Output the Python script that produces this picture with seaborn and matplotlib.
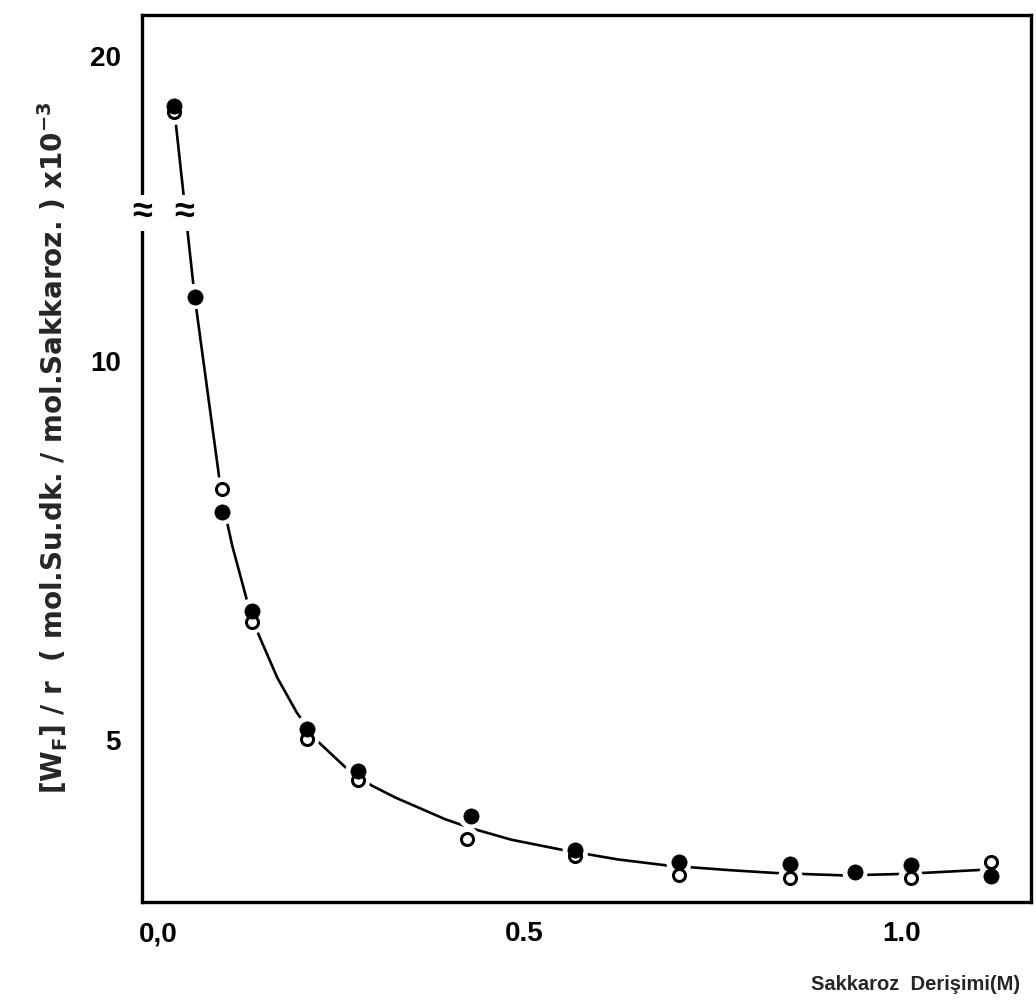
import numpy as np
import pandas as pd
import matplotlib
matplotlib.use("Agg")
import matplotlib.pyplot as plt
from matplotlib.transforms import ScaledTranslation
import seaborn as sns

# Sucrose concentration (M) and [W_F]/r values (x10^-3)
conc_filled = [0.043, 0.070, 0.107, 0.146, 0.219, 0.287, 0.437, 0.576, 0.714, 0.862, 0.948, 1.022, 1.129]
val_filled = [19.50, 11.00, 8.16, 6.86, 5.31, 4.75, 4.16, 3.72, 3.55, 3.53, 3.42, 3.52, 3.37]

conc_open = [0.043, 0.107, 0.146, 0.219, 0.287, 0.432, 0.576, 0.714, 0.862, 1.022, 1.129]
val_open = [19.42, 8.46, 6.72, 5.18, 4.64, 3.86, 3.64, 3.39, 3.34, 3.34, 3.55]

# Hand-drawn trend curve
curve_x = [0.043, 0.070, 0.107, 0.120, 0.139, 0.155, 0.180, 0.206, 0.232, 0.273, 0.306,
           0.338, 0.359, 0.403, 0.438, 0.491, 0.562, 0.633, 0.699, 0.780, 0.845, 0.934,
           1.014, 1.130]
curve_y = [19.45, 11.00, 8.30, 7.72, 7.02, 6.55, 5.98, 5.52, 5.16, 4.78, 4.56,
           4.40, 4.31, 4.12, 4.00, 3.85, 3.71, 3.59, 3.51, 3.45, 3.41, 3.38,
           3.40, 3.46]

x_ticks = [0.0, 0.5, 1.0]
x_ticklabels = ["0,0", "0.5", "1.0"]
y_ticks = [5, 10, 20]
y_ticklabels = ["5", "10", "20"]

# Broken y axis: the interval between BRK_LO and BRK_HI is squeezed out
BRK_LO, BRK_HI = 12.2, 18.2
GAP = BRK_HI - BRK_LO
EPS = 1e-3


def fwd(y):
    y = np.asarray(y, dtype=float)
    return np.where(y <= BRK_LO, y,
                    np.where(y >= BRK_HI, y - GAP + GAP * EPS,
                             BRK_LO + (y - BRK_LO) * EPS))


def inv(t):
    t = np.asarray(t, dtype=float)
    return np.where(t <= BRK_LO, t,
                    np.where(t >= BRK_LO + GAP * EPS, t + GAP - GAP * EPS,
                             BRK_LO + (t - BRK_LO) / EPS))


sns.set_theme(style="white")
plt.rcParams["font.family"] = ["Liberation Sans", "DejaVu Sans"]
plt.rcParams["mathtext.default"] = "regular"

W, H = 1036, 1007
fig = plt.figure(figsize=(W / 100, H / 100), dpi=100)
ax = fig.add_axes([142 / W, 1 - 902 / H, 889 / W, 887 / H])
ax.set_yscale("function", functions=(fwd, inv))

df_filled = pd.DataFrame({"conc": conc_filled, "val": val_filled})
df_open = pd.DataFrame({"conc": conc_open, "val": val_open})
df_curve = pd.DataFrame({"conc": curve_x, "val": curve_y})
df_all = pd.concat([df_filled, df_open], ignore_index=True)

sns.lineplot(data=df_curve, x="conc", y="val", sort=False, estimator=None,
             color="black", linewidth=1.9, ax=ax, zorder=2)
# white halos leave small gaps in the curve around each point
sns.scatterplot(data=df_all, x="conc", y="val", s=330, color="white",
                edgecolor="none", linewidth=0, ax=ax, zorder=3)
sns.scatterplot(data=df_open, x="conc", y="val", s=75, facecolor="white",
                edgecolor="black", linewidth=2.2, ax=ax, zorder=4)
sns.scatterplot(data=df_filled, x="conc", y="val", s=120, color="black",
                edgecolor="black", linewidth=0.5, ax=ax, zorder=5)

ax.set_xlim(0, 1.182)
ax.set_ylim(3.03, 20.70)
ax.set_xlabel("")
ax.set_ylabel("")

for sp in ax.spines.values():
    sp.set_linewidth(2.4)
    sp.set_color("black")
    sp.set_visible(True)

ax.set_xticks(x_ticks)
ax.set_xticklabels(x_ticklabels)
ax.set_yticks(y_ticks)
ax.set_yticklabels(y_ticklabels)
ax.tick_params(axis="both", direction="in", length=9, width=2, color="black",
               labelsize=20, labelcolor="black")
ax.tick_params(axis="x", pad=14)
ax.tick_params(axis="y", pad=13)
ax.xaxis.get_major_ticks()[0].tick1line.set_visible(False)
ax.minorticks_off()

for lab in ax.get_xticklabels() + ax.get_yticklabels():
    lab.set_fontweight("bold")

dx_lab = [0.16, 0.06, 0.07]
for lab, dx in zip(ax.get_xticklabels(), dx_lab):
    lab.set_transform(lab.get_transform() + ScaledTranslation(dx, 0, fig.dpi_scale_trans))
for lab in ax.get_yticklabels():
    lab.set_transform(lab.get_transform() + ScaledTranslation(-0.03, 0.12, fig.dpi_scale_trans))

# break marks on the axis and on the curve
ax.text(0.0, BRK_LO - 0.1, "≈", transform=ax.get_yaxis_transform(), ha="center", va="center",
        fontsize=26, fontweight="bold", color="black", zorder=6, clip_on=False,
        bbox=dict(facecolor="white", edgecolor="none", pad=0.3))
ax.text(0.056, BRK_LO - 0.1, "≈", ha="center", va="center",
        fontsize=26, fontweight="bold", color="black", zorder=6,
        bbox=dict(facecolor="white", edgecolor="none", pad=0.3))

fig.text(53 / W, 1 - 448 / H,
         "[W$_F$] / r  ( mol.Su.dk. / mol.Sakkaroz. ) x10$^{-3}$",
         rotation=90, ha="center", va="center", fontsize=20, fontweight="bold",
         family=["DejaVu Sans"])
fig.text(1020 / W, 1 - 985 / H, "Sakkaroz  Derişimi(M)",
         ha="right", va="center", fontsize=14.5, fontweight="bold")

fig.savefig("out.png", dpi=100, facecolor="white")
